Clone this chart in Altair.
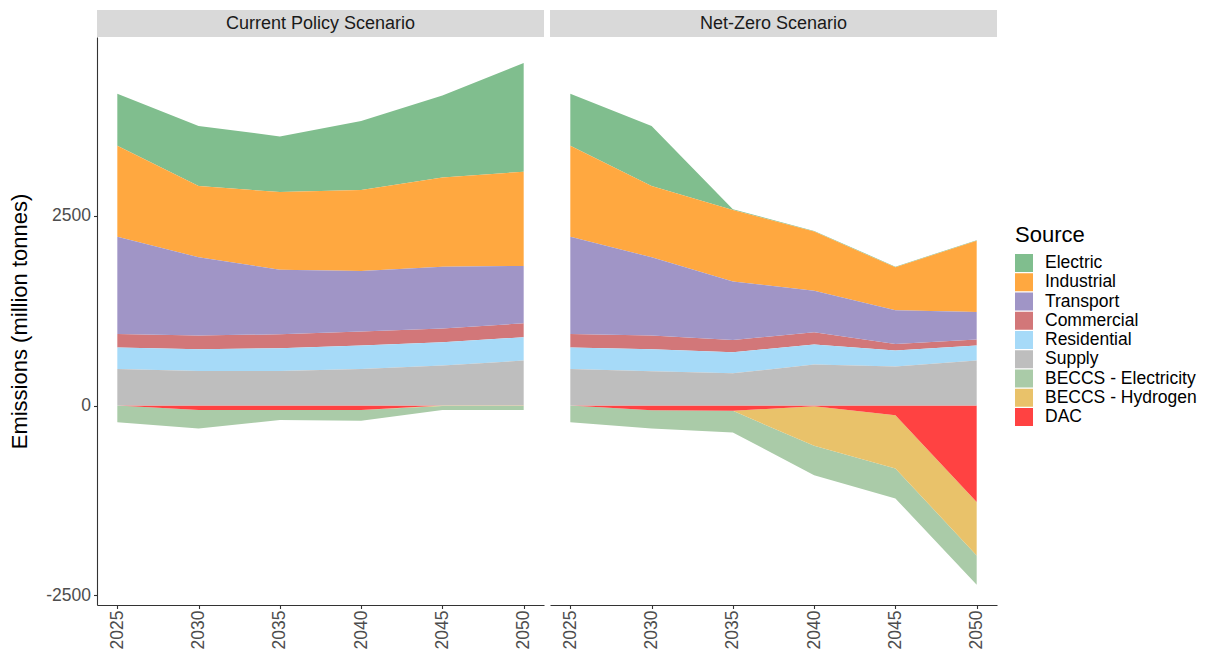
import altair as alt
import pandas as pd

years = [2025, 2030, 2035, 2040, 2045, 2050]
scenarios = ["Current Policy Scenario", "Net-Zero Scenario"]
sources = ["Electric", "Industrial", "Transport", "Commercial", "Residential",
           "Supply", "BECCS - Electricity", "BECCS - Hydrogen", "DAC"]
colors = ["#80BE8E", "#FFA840", "#A095C6", "#D27779", "#A6DAF8",
          "#BEBEBE", "#AACBA8", "#E9C26A", "#FF4242"]

# Current Policy Scenario (million tonnes)
cp_electric = [684, 790, 733, 908, 1079, 1430]
cp_industrial = [1197, 938, 1022, 1066, 1175, 1241]
cp_transport = [1281, 1031, 850, 798, 816, 755]
cp_commercial = [180, 180, 185, 185, 180, 184]
cp_residential = [281, 285, 298, 307, 307, 307]
cp_supply = [482, 456, 456, 482, 526, 592]
cp_beccs_elec = [-219, -243, -132, -141, -52, -52]
cp_beccs_h2 = [0, 0, 0, 0, -8, -8]
cp_dac = [0, -60, -60, -60, 0, 0]

# Net-Zero Scenario (million tonnes)
nz_electric = [684, 790, 10, 8, 9, 5]
nz_industrial = [1197, 938, 943, 777, 566, 939]
nz_transport = [1281, 1031, 768, 548, 443, 364]
nz_commercial = [180, 180, 162, 162, 87, 79]
nz_residential = [281, 289, 277, 264, 211, 197]
nz_supply = [482, 452, 425, 539, 513, 592]
nz_beccs_elec = [-219, -242, -285, -386, -395, -386]
nz_beccs_h2 = [0, 0, 0, -522, -702, -702]
nz_dac = [0, -61, -70, -9, -127, -1272]

series = {
    scenarios[0]: [cp_electric, cp_industrial, cp_transport, cp_commercial, cp_residential,
                   cp_supply, cp_beccs_elec, cp_beccs_h2, cp_dac],
    scenarios[1]: [nz_electric, nz_industrial, nz_transport, nz_commercial, nz_residential,
                   nz_supply, nz_beccs_elec, nz_beccs_h2, nz_dac],
}

# stack: positives upward and non-positives downward, last source nearest zero
rows = []
for sc in scenarios:
    vals = series[sc]
    for i, yr in enumerate(years):
        pos, neg = 0.0, 0.0
        for k in reversed(range(len(sources))):
            v = vals[k][i]
            if v > 0:
                y0, y1 = pos, pos + v
                pos = y1
            else:
                y0, y1 = neg, neg + v
                neg = y1
            rows.append({"Scenario": sc, "Year": yr, "Source": sources[k],
                         "Value": v, "y0": y0, "y1": y1})
df = pd.DataFrame(rows).sort_values(["Scenario", "Source", "Year"])

W, H = 447, 568
FONT = "Liberation Sans"

base = alt.Chart(df)

area = base.mark_area(interpolate="linear", opacity=1).encode(
    x=alt.X("Year:Q",
            scale=alt.Scale(domain=[2023.75, 2051.25], nice=False, zero=False),
            axis=alt.Axis(values=years, format="d", labelAngle=-90, title=None,
                          grid=False, tickSize=3.5, labelPadding=1.5)),
    y=alt.Y("y1:Q",
            scale=alt.Scale(domain=[-2627, 4853], nice=False, zero=False),
            axis=alt.Axis(values=[-2500, 0, 2500], title="Emissions (million tonnes)",
                          labelExpr="datum.value + ''",
                          grid=False, tickSize=3.5, labelPadding=3, titlePadding=14)),
    y2="y0:Q",
    color=alt.Color("Source:N",
                    scale=alt.Scale(domain=sources, range=colors),
                    legend=alt.Legend(title="Source", orient="none",
                                      legendX=918, legendY=188)),
)

one = "datum.Year == 2025 && datum.Source == 'Electric'"
strip = base.transform_filter(one).mark_rect(color="#D9D9D9").encode(
    x=alt.value(0), x2=alt.value(W), y=alt.value(-27), y2=alt.value(0)
)
strip_text = base.transform_filter(one).mark_text(
    fontSize=18, color="#1A1A1A", font=FONT, baseline="middle", align="center"
).encode(x=alt.value(W / 2), y=alt.value(-13), text="Scenario:N")

chart = alt.layer(area, strip, strip_text).properties(width=W, height=H).facet(
    column=alt.Column("Scenario:N", sort=scenarios,
                      header=alt.Header(title=None, labels=False)),
    spacing=6,
).properties(
    padding={"left": 0, "top": 2, "right": 0, "bottom": 0}
).configure_view(stroke=None).configure_axis(
    domainColor="#333333", tickColor="#333333", domainWidth=1.1, tickWidth=1.1,
    labelColor="#4D4D4D", labelFontSize=17.5, labelFont=FONT,
    titleFont=FONT, titleFontSize=22, titleFontWeight="normal", titleColor="#000000",
).configure_legend(
    titleFont=FONT, titleFontSize=22, titleFontWeight="normal", titleColor="#000000",
    labelFont=FONT, labelFontSize=17.5, labelColor="#000000",
    symbolType="square", symbolSize=324, symbolStrokeWidth=0, symbolOpacity=1,
    labelOffset=12, rowPadding=1.25, titlePadding=7, padding=0,
)

chart.save("out.html", embed_options={"renderer": "svg", "actions": False})
